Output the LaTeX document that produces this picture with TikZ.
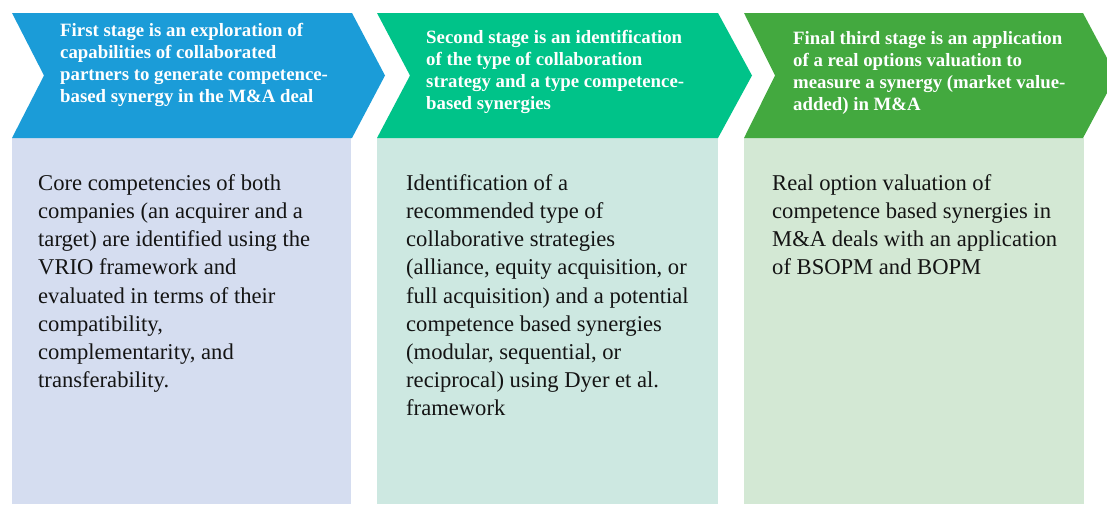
\documentclass[tikz,border=0pt]{standalone}
\usepackage{fontspec}
\setmainfont{Liberation Serif}
\definecolor{cblue}{HTML}{1B9CD8}
\definecolor{cteal}{HTML}{00C389}
\definecolor{cgreen}{HTML}{43A93F}
\definecolor{lblue}{HTML}{D5DDF0}
\definecolor{lteal}{HTML}{CDE8E1}
\definecolor{lgreen}{HTML}{D3E8D4}
\tikzset{
  head/.style={anchor=north west, inner sep=0pt, align=left, text=white,
    font=\fontsize{18.8}{22}\selectfont\bfseries},
  bodytext/.style={anchor=north west, inner sep=0pt, align=left, text=black!92,
    font=\fontsize{22.6}{28.2}\selectfont},
}
\begin{document}
\begin{tikzpicture}[x=1pt,y=-1pt]
\useasboundingbox (0,0) rectangle (1107,504);
% bodies
\fill[lblue] (12,138) rectangle (351,504);
\fill[lteal] (377,138) rectangle (718,504);
\fill[lgreen] (744,138) rectangle (1084,504);
% chevrons
\fill[cblue] (12,13) -- (352,13) -- (385,75.5) -- (352,138) -- (12,138) -- (44,75.5) -- cycle;
\fill[cteal] (377,13) -- (718,13) -- (752,75.5) -- (718,138) -- (377,138) -- (410,75.5) -- cycle;
\fill[cgreen] (744,13) -- (1083,13) -- (1107,58) -- (1107,93) -- (1083,138) -- (744,138) -- (775,75.5) -- cycle;
% header texts
\node[head] (h1) at (60,23) {First stage is an exploration of\\capabilities of collaborated\\partners to generate competence-\\based synergy in the M\&A deal};
\node[head] (h2) at (426,30) {Second stage is an identification\\of the type of collaboration\\strategy and a type competence-\\based synergies};
\node[head] (h3) at (793,31.5) {Final third stage is an application\\of a real options valuation to\\measure a synergy (market value-\\added) in M\&A};
% body texts
\node[bodytext] (b1) at (38,174.2) {Core competencies of both\\companies (an acquirer and a\\target) are identified using the\\VRIO framework and\\evaluated in terms of their\\compatibility,\\complementarity, and\\transferability.};
\node[bodytext] (b2) at (406,174.2) {Identification of a\\recommended type of\\collaborative strategies\\(alliance, equity acquisition, or\\full acquisition) and a potential\\competence based synergies\\(modular, sequential, or\\reciprocal) using Dyer et al.\\framework};
\node[bodytext] (b3) at (772,174.2) {Real option valuation of\\competence based synergies in\\M\&A deals with an application\\of BSOPM and BOPM};
\end{tikzpicture}
\end{document}
